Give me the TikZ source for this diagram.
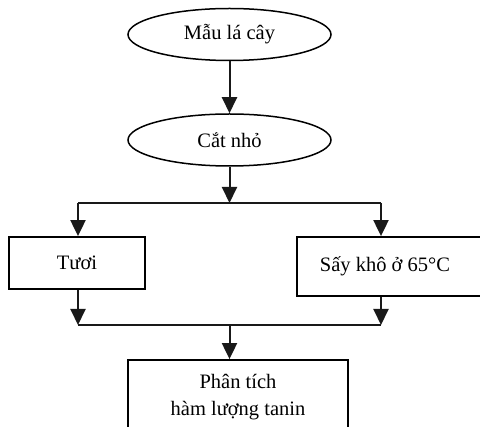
\documentclass[tikz,border=0pt]{standalone}
\usepackage{fontspec}
\setmainfont{Liberation Serif}
\usetikzlibrary{arrows.meta,positioning,shapes.geometric}

\begin{document}
\begin{tikzpicture}[
  x=1pt, y=-1pt,
  every node/.style={font=\fontsize{20.5}{27}\selectfont, inner sep=0pt},
  oval/.style={draw, ellipse, line width=1.5pt, minimum width=203pt, minimum height=52pt},
  stepbox/.style={draw, rectangle, line width=1.8pt, align=center},
  link/.style={line width=2pt, black!90},
  arr/.style={link, -{Triangle[length=16pt, width=15pt]}}
]
  \useasboundingbox (0,0) rectangle (480,427);
  \clip (0,0) rectangle (480,427);
  % nodes
  \node[oval] (mau) at (229.5,34.5) {Mẫu lá cây};
  \node[oval] (cat) at (229.5,140) {Cắt nhỏ};
  \node[stepbox, minimum width=136pt, minimum height=52pt] (tuoi) at (77,263) {Tươi};
  \node[stepbox, minimum width=186pt, minimum height=59pt] (say) at (390,266.5) {\hspace*{-10pt}Sấy khô ở 65°C};
  \node[stepbox, minimum width=220pt, minimum height=74pt] (ptich) at (238,397) {Phân tích\\hàm lượng tanin};
  % branch points
  \coordinate (split) at (229.5,203);
  \coordinate (l1) at (78,203);
  \coordinate (r1) at (381,203);
  \coordinate (join) at (229.5,325);
  \coordinate (l2) at (78,325);
  \coordinate (r2) at (381,325);
  % connectors
  \draw[arr] (mau) -- (cat);
  \draw[arr] (cat) -- (split);
  \draw[link] (l1) -- (r1);
  \draw[arr] (l1) -- (l1 |- tuoi.north);
  \draw[arr] (r1) -- (r1 |- say.north);
  \draw[arr] (l2 |- tuoi.south) -- (l2);
  \draw[arr] (r2 |- say.south) -- (r2);
  \draw[link] (l2) -- (r2);
  \draw[arr] (join) -- (join |- ptich.north);
\end{tikzpicture}
\end{document}
